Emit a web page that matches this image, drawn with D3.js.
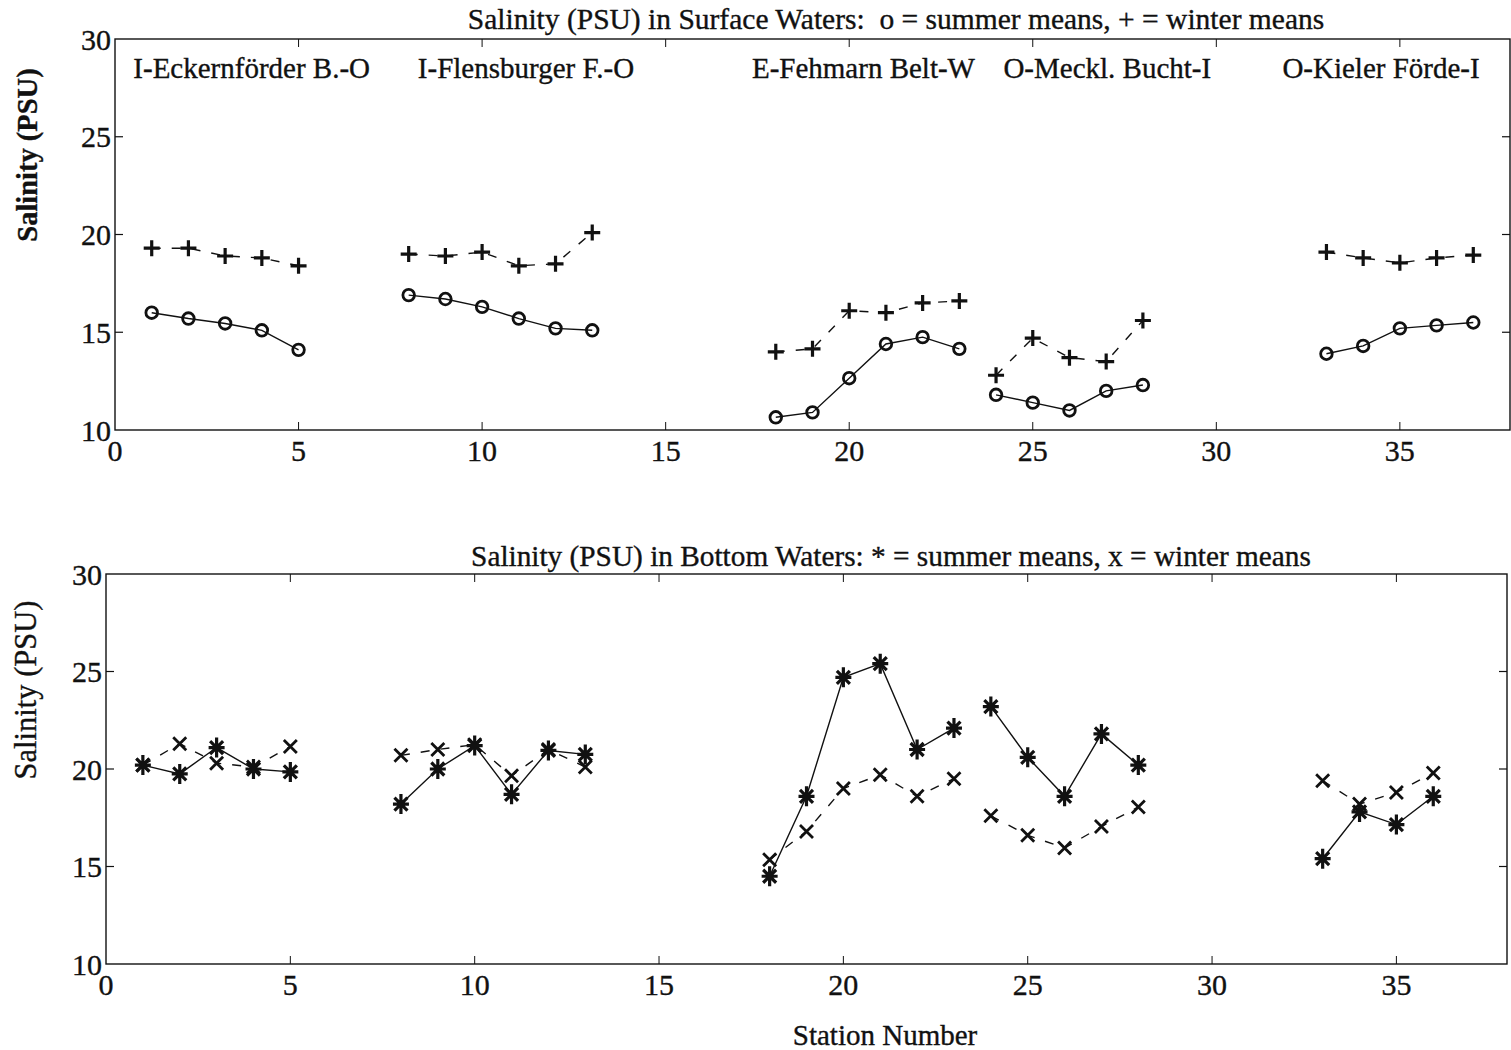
<!DOCTYPE html>
<html><head><meta charset="utf-8">
<script src="https://cdn.jsdelivr.net/npm/d3@7"></script>
<style>
body{margin:0;background:#fff;}
text{font-family:"Liberation Serif","Times New Roman",serif;fill:#111;stroke:#111;stroke-width:0.35px;white-space:pre;}
</style>
</head><body><svg id="c" width="1511" height="1050"></svg>
<script>
// ---- data ----
const xTicks = [0, 5, 10, 15, 20, 25, 30, 35];
const yTicks = [10, 15, 20, 25, 30];

const surfaceStations = [[1,2,3,4,5],[8,9,10,11,12,13],[18,19,20,21,22,23],[24,25,26,27,28],[33,34,35,36,37]];
const surfaceSummer = [[16.0,15.7,15.45,15.1,14.1],[16.9,16.7,16.3,15.7,15.2,15.1],[10.65,10.9,12.65,14.4,14.75,14.15],[11.8,11.4,11.0,12.0,12.3],[13.9,14.3,15.2,15.35,15.5]];
const surfaceWinter = [[19.3,19.3,18.9,18.8,18.4],[19.0,18.9,19.1,18.4,18.5,20.1],[14.0,14.15,16.1,16.0,16.5,16.6],[12.8,14.7,13.7,13.5,15.6],[19.1,18.8,18.55,18.8,18.95]];

const bottomStations = [[1,2,3,4,5],[8,9,10,11,12,13],[18,19,20,21,22,23],[24,25,26,27,28],[33,34,35,36]];
const bottomSummer = [[20.2,19.75,21.1,20.0,19.85],[18.2,20.0,21.2,18.7,20.95,20.75],[14.5,18.6,24.7,25.4,21.0,22.1],[23.2,20.6,18.6,21.8,20.2],[15.4,17.8,17.15,18.6]];
const bottomWinter = [[20.2,21.3,20.3,20.1,21.15],[20.7,21.0,21.25,19.65,21.0,20.1],[15.35,16.8,19.0,19.7,18.6,19.5],[17.6,16.6,15.95,17.05,18.05],[19.4,18.2,18.8,19.8]];

const regionLabels = ["I-Eckernförder B.-O","I-Flensburger F.-O","E-Fehmarn Belt-W","O-Meckl. Bucht-I","O-Kieler Förde-I"];
const regionLabelX = [0.5, 8.25, 17.35, 24.2, 31.8];

const topTitle = "Salinity (PSU) in Surface Waters:  o = summer means, + = winter means";
const bottomTitle = "Salinity (PSU) in Bottom Waters: * = summer means, x = winter means";
const yLabel = "Salinity (PSU)";
const xLabel = "Station Number";

// ---- drawing ----
const svg = d3.select("#c");
svg.append("rect").attr("width",1511).attr("height",1050).attr("fill","#fff");
const ink = "#111";

function panel(box, stations, summer, winter, sumMarker, winMarker){
  const x = d3.scaleLinear().domain([0,38]).range([box.x0, box.x1]);
  const y = d3.scaleLinear().domain([10,30]).range([box.y1, box.y0]);
  const g = svg.append("g");
  g.append("rect").attr("x",box.x0).attr("y",box.y0).attr("width",box.x1-box.x0).attr("height",box.y1-box.y0)
    .attr("fill","none").attr("stroke",ink).attr("stroke-width",1.4);
  const tl = 8;
  xTicks.filter(t=>t>0).forEach(t=>{
    g.append("line").attr("x1",x(t)).attr("x2",x(t)).attr("y1",box.y1).attr("y2",box.y1-tl).attr("stroke",ink).attr("stroke-width",1);
    g.append("line").attr("x1",x(t)).attr("x2",x(t)).attr("y1",box.y0).attr("y2",box.y0+tl).attr("stroke",ink).attr("stroke-width",1);
  });
  yTicks.filter(t=>t>10 && t<30).forEach(t=>{
    g.append("line").attr("x1",box.x0).attr("x2",box.x0+tl).attr("y1",y(t)).attr("y2",y(t)).attr("stroke",ink).attr("stroke-width",1.2);
    g.append("line").attr("x1",box.x1).attr("x2",box.x1-tl).attr("y1",y(t)).attr("y2",y(t)).attr("stroke",ink).attr("stroke-width",1.2);
  });
  xTicks.forEach(t=>{
    g.append("text").attr("x",x(t)).attr("y",box.y1+31).attr("text-anchor","middle").attr("font-size",30).text(t);
  });
  yTicks.forEach(t=>{
    g.append("text").attr("x",box.x0-4).attr("y",y(t)).attr("dy","0.35em").attr("text-anchor","end").attr("font-size",30).text(t);
  });
  const line = d3.line().x(d=>x(d[0])).y(d=>y(d[1]));
  stations.forEach((st,i)=>{
    const sPts = st.map((s,j)=>[s, summer[i][j]]);
    const wPts = st.map((s,j)=>[s, winter[i][j]]);
    g.append("path").attr("d",line(wPts)).attr("fill","none").attr("stroke",ink).attr("stroke-width",1.4).attr("stroke-dasharray","9,11");
    g.append("path").attr("d",line(sPts)).attr("fill","none").attr("stroke",ink).attr("stroke-width",1.4);
    wPts.forEach(p=>winMarker(g, x(p[0]), y(p[1])));
    sPts.forEach(p=>sumMarker(g, x(p[0]), y(p[1])));
  });
  return {x,y};
}

function circleM(g,cx,cy){ g.append("circle").attr("cx",cx).attr("cy",cy).attr("r",5.8).attr("fill","none").attr("stroke",ink).attr("stroke-width",2.8); }
function plusM(g,cx,cy){ g.append("path").attr("transform",`translate(${cx},${cy})`).attr("d","M-8,0H8M0,-8V8").attr("stroke",ink).attr("stroke-width",3.2).attr("fill","none"); }
function crossM(g,cx,cy){ g.append("path").attr("transform",`translate(${cx},${cy})`).attr("d","M-6.5,-6.5L6.5,6.5M-6.5,6.5L6.5,-6.5").attr("stroke",ink).attr("stroke-width",2.8).attr("fill","none"); }
function starM(g,cx,cy){ g.append("path").attr("transform",`translate(${cx},${cy})`).attr("d","M-8,0H8M0,-10V10M-6.5,-6.5L6.5,6.5M-6.5,6.5L6.5,-6.5").attr("stroke",ink).attr("stroke-width",3.2).attr("fill","none"); }

const topPanel = panel({x0:115,x1:1510,y0:39,y1:430}, surfaceStations, surfaceSummer, surfaceWinter, circleM, plusM);
const botPanel = panel({x0:106,x1:1507,y0:574,y1:964}, bottomStations, bottomSummer, bottomWinter, starM, crossM);

svg.append("text").attr("x",896).attr("y",29).attr("text-anchor","middle").attr("font-size",29.5).text(topTitle);
svg.append("text").attr("x",891).attr("y",566).attr("text-anchor","middle").attr("font-size",29.3).text(bottomTitle);
regionLabels.forEach((l,i)=>{
  svg.append("text").attr("x",topPanel.x(regionLabelX[i])).attr("y",78).attr("font-size",29).text(l);
});
svg.append("text").attr("transform","translate(37,155) rotate(-90)").attr("text-anchor","middle").attr("font-size",28.5).attr("font-weight","bold").text(yLabel);
svg.append("text").attr("transform","translate(36,690) rotate(-90)").attr("text-anchor","middle").attr("font-size",30.5).text(yLabel);
svg.append("text").attr("x",885).attr("y",1045).attr("text-anchor","middle").attr("font-size",29).text(xLabel);
</script></body></html>
